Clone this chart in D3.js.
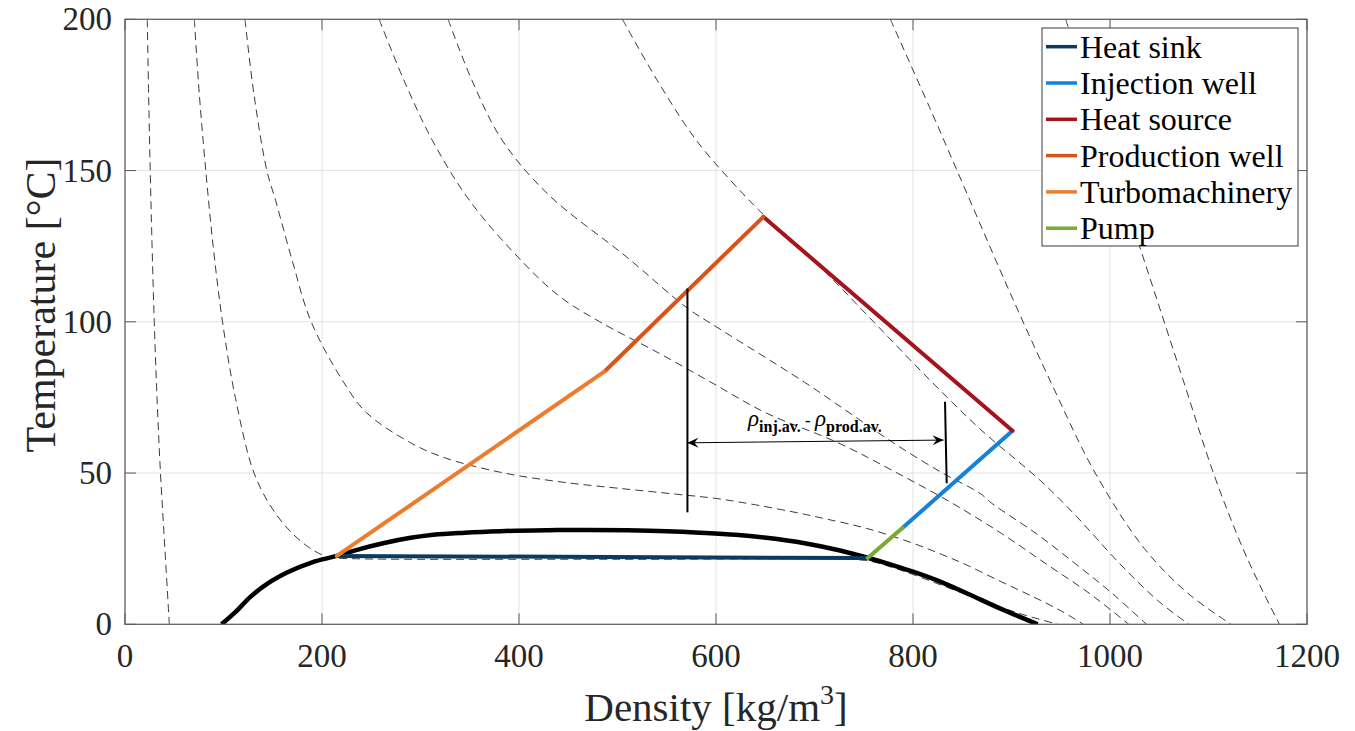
<!DOCTYPE html>
<html>
<head>
<meta charset="utf-8">
<script src="https://cdn.jsdelivr.net/npm/d3@7"></script>
<style>
  body { margin: 0; background: #fff; }
  text { font-family: "Liberation Serif", "Times New Roman", serif; }
</style>
</head>
<body>
<svg id="chart" width="1355" height="731"></svg>
<script>
// ---- axes ----
const xTicks = [0, 200, 400, 600, 800, 1000, 1200];
const yTicks = [0, 50, 100, 150, 200];
const xLabel = "Density [kg/m";
const yLabel = "Temperature [°C]";

// ---- CO2 saturation dome [density, temperature] ----
const dome = [
  [98, 0], [112, 4], [127, 9], [145, 13.5], [165, 17.2], [190, 20.5], [215, 22.6],
  [240, 25], [262, 26.8], [290, 28.6], [313, 29.6], [345, 30.3], [381, 30.8], [430, 31.1],
  [470, 31.2], [510, 31.1], [550, 30.8], [584, 30.3], [620, 29.6], [651, 28.6], [690, 26.8],
  [719, 24.9], [754, 22], [780, 19.5], [800, 17.4], [830, 13.8], [855, 10.2], [890, 5], [926.6, 0]
];

// ---- isobars (dashed) [density, temperature] ----
const iso2 = [[22.6, 200], [24, 175], [25.6, 150], [27.5, 125], [29.7, 100], [32.5, 75], [36, 50], [40.5, 25], [45, 0]];
const iso6 = [[70.4, 200], [75.5, 175], [82, 150], [89.5, 125], [99, 100], [112, 75], [131, 50], [150, 38],
  [170, 30], [191, 24.5], [207, 22.2], [220, 21.8], [500, 21.5], [745, 21.3], [760, 20.6], [790, 17.6],
  [830, 12.8], [870, 7.8], [910, 3.4], [947, 0]];
const iso10 = [[121.8, 200], [131, 175], [144, 150], [153, 140], [170, 120], [189, 100], [222, 80],
  [245, 70], [290, 60], [325, 55], [385, 50], [441.6, 47.1], [500, 45], [560, 43], [600, 41.6],
  [640, 39.5], [685, 36.7], [712, 34.8], [753, 31.7], [800, 26.8], [830, 23], [854.5, 19.6],
  [890, 14], [922, 9.1], [950, 4.5], [973, 0]];
const iso20 = [[258, 200], [283, 180], [312, 160], [350, 140], [403, 120], [441.6, 108.3], [482, 100],
  [540, 90], [595, 80], [650, 70], [724, 60], [784, 50], [840, 40], [890, 30], [935, 20], [980, 10], [1019, 0]];
const iso25 = [[328, 200], [352, 180], [383, 160], [430, 142], [509, 121.5], [571, 104.5], [600, 98.4],
  [690, 80], [735, 70], [780, 60], [830, 50], [868, 43.3], [880, 40], [925, 30], [965, 20], [1003, 10], [1037, 0]];
const iso40 = [[505, 200], [540, 180], [580, 160], [624, 143.5], [648, 135.5], [705.6, 118.2], [760, 100],
  [817, 80.8], [870, 64], [929, 47.6], [965, 36], [1010, 20], [1048, 8], [1080, 0]];
const isoHighA = [[777, 200], [818, 170], [858, 140], [898, 110], [940, 80], [985, 50], [1035, 25],
  [1080, 10], [1123, 0]];
const isoHighB = [[955, 200], [985, 170], [1015, 140], [1045, 110], [1075, 80], [1105, 50], [1135, 25],
  [1155, 11], [1172, 0]];
const isobars = [iso2, iso6, iso10, iso20, iso25, iso40, isoHighA, isoHighB];

// ---- cycle segments [density, temperature] ----
const heatSink = [[215, 22.6], [754, 21.9]];
const pump = [[754, 21.9], [789.5, 31.9]];
const injectionWell = [[789.5, 31.9], [901, 64]];
const heatSource = [[901, 64], [648, 134.7]];
const productionWell = [[648, 134.7], [486.6, 83.5]];
const turbomachinery = [[486.6, 83.5], [215, 22.6]];

const seriesNames = ["Heat sink", "Injection well", "Heat source", "Production well", "Turbomachinery", "Pump"];
const seriesColors = ["#0b3a5e", "#1581d8", "#a3141f", "#d9531a", "#ec7d2d", "#77ac30"];
const seriesData = [heatSink, injectionWell, heatSource, productionWell, turbomachinery, pump];

// ---- average density annotation ----
const prodAvgLine = [[571, 111], [571, 37]];
const injAvgLine = [[832.5, 73.6], [834.2, 46.6]];
const diffArrow = [[571, 60.0], [831, 60.9]];

// ---- drawing ----
(function () {
const svg = d3.select("#chart");
const pL = 125, pR = 1307, pT = 19.3, pB = 624.3;
const x = d3.scaleLinear().domain([0, 1200]).range([pL, pR]);
const y = d3.scaleLinear().domain([0, 200]).range([pB, pT]);
const line = d3.line().x(d => x(d[0])).y(d => y(d[1]));
const smooth = d3.line().x(d => x(d[0])).y(d => y(d[1])).curve(d3.curveCatmullRom.alpha(0.5));
const domeLine = d3.line().x(d => x(d[0])).y(d => y(d[1])).curve(d3.curveMonotoneX);

const defs = svg.append("defs");
defs.append("clipPath").attr("id", "plotClip")
  .append("rect").attr("x", pL).attr("y", pT).attr("width", pR - pL).attr("height", pB - pT);

// grid
const grid = svg.append("g");
grid.selectAll(".gx").data(xTicks).join("line")
  .attr("x1", d => x(d)).attr("x2", d => x(d)).attr("y1", pT).attr("y2", pB)
  .attr("stroke", "#e3e3e3").attr("stroke-width", 1);
grid.selectAll(".gy").data(yTicks).join("line")
  .attr("y1", d => y(d)).attr("y2", d => y(d)).attr("x1", pL).attr("x2", pR)
  .attr("stroke", "#e3e3e3").attr("stroke-width", 1);

const plot = svg.append("g").attr("clip-path", "url(#plotClip)");

// isobars
plot.selectAll(".iso").data(isobars).join("path")
  .attr("d", smooth).attr("fill", "none")
  .attr("stroke", "#3a3a3a").attr("stroke-width", 1).attr("stroke-dasharray", "8,5");

// dome
plot.append("path").datum(dome).attr("d", domeLine)
  .attr("fill", "none").attr("stroke", "#000").attr("stroke-width", 4.5);

// cycle
plot.selectAll(".seg").data(seriesData).join("path")
  .attr("d", line).attr("fill", "none")
  .attr("stroke", (d, i) => seriesColors[i]).attr("stroke-width", 4)
  .attr("stroke-linecap", "round");

// annotation
[prodAvgLine, injAvgLine].forEach(s => {
  svg.append("path").datum(s).attr("d", line).attr("stroke", "#000").attr("stroke-width", 2);
});
svg.append("path").datum(diffArrow).attr("d", line).attr("stroke", "#000").attr("stroke-width", 1);
function arrowHead(tip, from) {
  const tx = x(tip[0]), ty = y(tip[1]);
  const fx = x(from[0]), fy = y(from[1]);
  const a = Math.atan2(ty - fy, tx - fx);
  const L = 11, W = 5, back = 7;
  const p = (l, w) => [tx - l * Math.cos(a) - w * Math.sin(a), ty - l * Math.sin(a) + w * Math.cos(a)];
  const pts = [[tx, ty], p(L, W), p(back, 0), p(L, -W)];
  svg.append("path").attr("d", "M" + pts.map(q => q.join(",")).join("L") + "Z").attr("fill", "#000");
}
arrowHead(diffArrow[0], diffArrow[1]);
arrowHead(diffArrow[1], diffArrow[0]);

const ann = svg.append("text").attr("x", 748).attr("y", 426).attr("fill", "#000");
ann.append("tspan").attr("font-size", 23).attr("font-style", "italic").text("ρ");
ann.append("tspan").attr("font-size", 16).attr("font-weight", "bold").attr("dy", 6).text("inj.av.");
ann.append("tspan").attr("font-size", 17).attr("font-weight", "bold").attr("dy", -6).text(" - ");
ann.append("tspan").attr("font-size", 23).attr("font-style", "italic").text("ρ");
ann.append("tspan").attr("font-size", 16).attr("font-weight", "bold").attr("dy", 6).text("prod.av.");

// axes box and ticks
const axisColor = "#5a5a5a";
svg.append("rect").attr("x", pL).attr("y", pT).attr("width", pR - pL).attr("height", pB - pT)
  .attr("fill", "none").attr("stroke", axisColor).attr("stroke-width", 1.2);
const tl = 11;
xTicks.forEach(t => {
  svg.append("line").attr("x1", x(t)).attr("x2", x(t)).attr("y1", pB).attr("y2", pB - tl).attr("stroke", axisColor);
  svg.append("line").attr("x1", x(t)).attr("x2", x(t)).attr("y1", pT).attr("y2", pT + tl).attr("stroke", axisColor);
});
yTicks.forEach(t => {
  svg.append("line").attr("y1", y(t)).attr("y2", y(t)).attr("x1", pL).attr("x2", pL + tl).attr("stroke", axisColor);
  svg.append("line").attr("y1", y(t)).attr("y2", y(t)).attr("x1", pR).attr("x2", pR - tl).attr("stroke", axisColor);
});
svg.selectAll(".xt").data(xTicks).join("text")
  .attr("x", d => x(d)).attr("y", 667).attr("text-anchor", "middle")
  .attr("font-size", 33).attr("fill", "#262626").text(d => d);
svg.selectAll(".yt").data(yTicks).join("text")
  .attr("x", 112).attr("y", d => y(d) + 11).attr("text-anchor", "end")
  .attr("font-size", 33).attr("fill", "#262626").text(d => d);

const xl = svg.append("text").attr("x", (pL + pR) / 2).attr("y", 721).attr("text-anchor", "middle")
  .attr("font-size", 41).attr("fill", "#262626");
xl.append("tspan").text(xLabel);
xl.append("tspan").attr("font-size", 28).attr("dy", -17).text("3");
xl.append("tspan").attr("dy", 17).text("]");
svg.append("text").attr("transform", "translate(55,305) rotate(-90)")
  .attr("text-anchor", "middle").attr("font-size", 42).attr("fill", "#262626").text(yLabel);

// legend
const lg = svg.append("g");
lg.append("rect").attr("x", 1042).attr("y", 28).attr("width", 256).attr("height", 218)
  .attr("fill", "#fff").attr("stroke", "#3a3a3a").attr("stroke-width", 1);
seriesNames.forEach((n, i) => {
  const cy = 46.7 + i * 36.3;
  lg.append("line").attr("x1", 1046).attr("x2", 1077).attr("y1", cy).attr("y2", cy)
    .attr("stroke", seriesColors[i]).attr("stroke-width", 3.5);
  lg.append("text").attr("x", 1080).attr("y", cy + 11).attr("font-size", 32).attr("fill", "#000").text(n);
});
})();
</script>
</body>
</html>
